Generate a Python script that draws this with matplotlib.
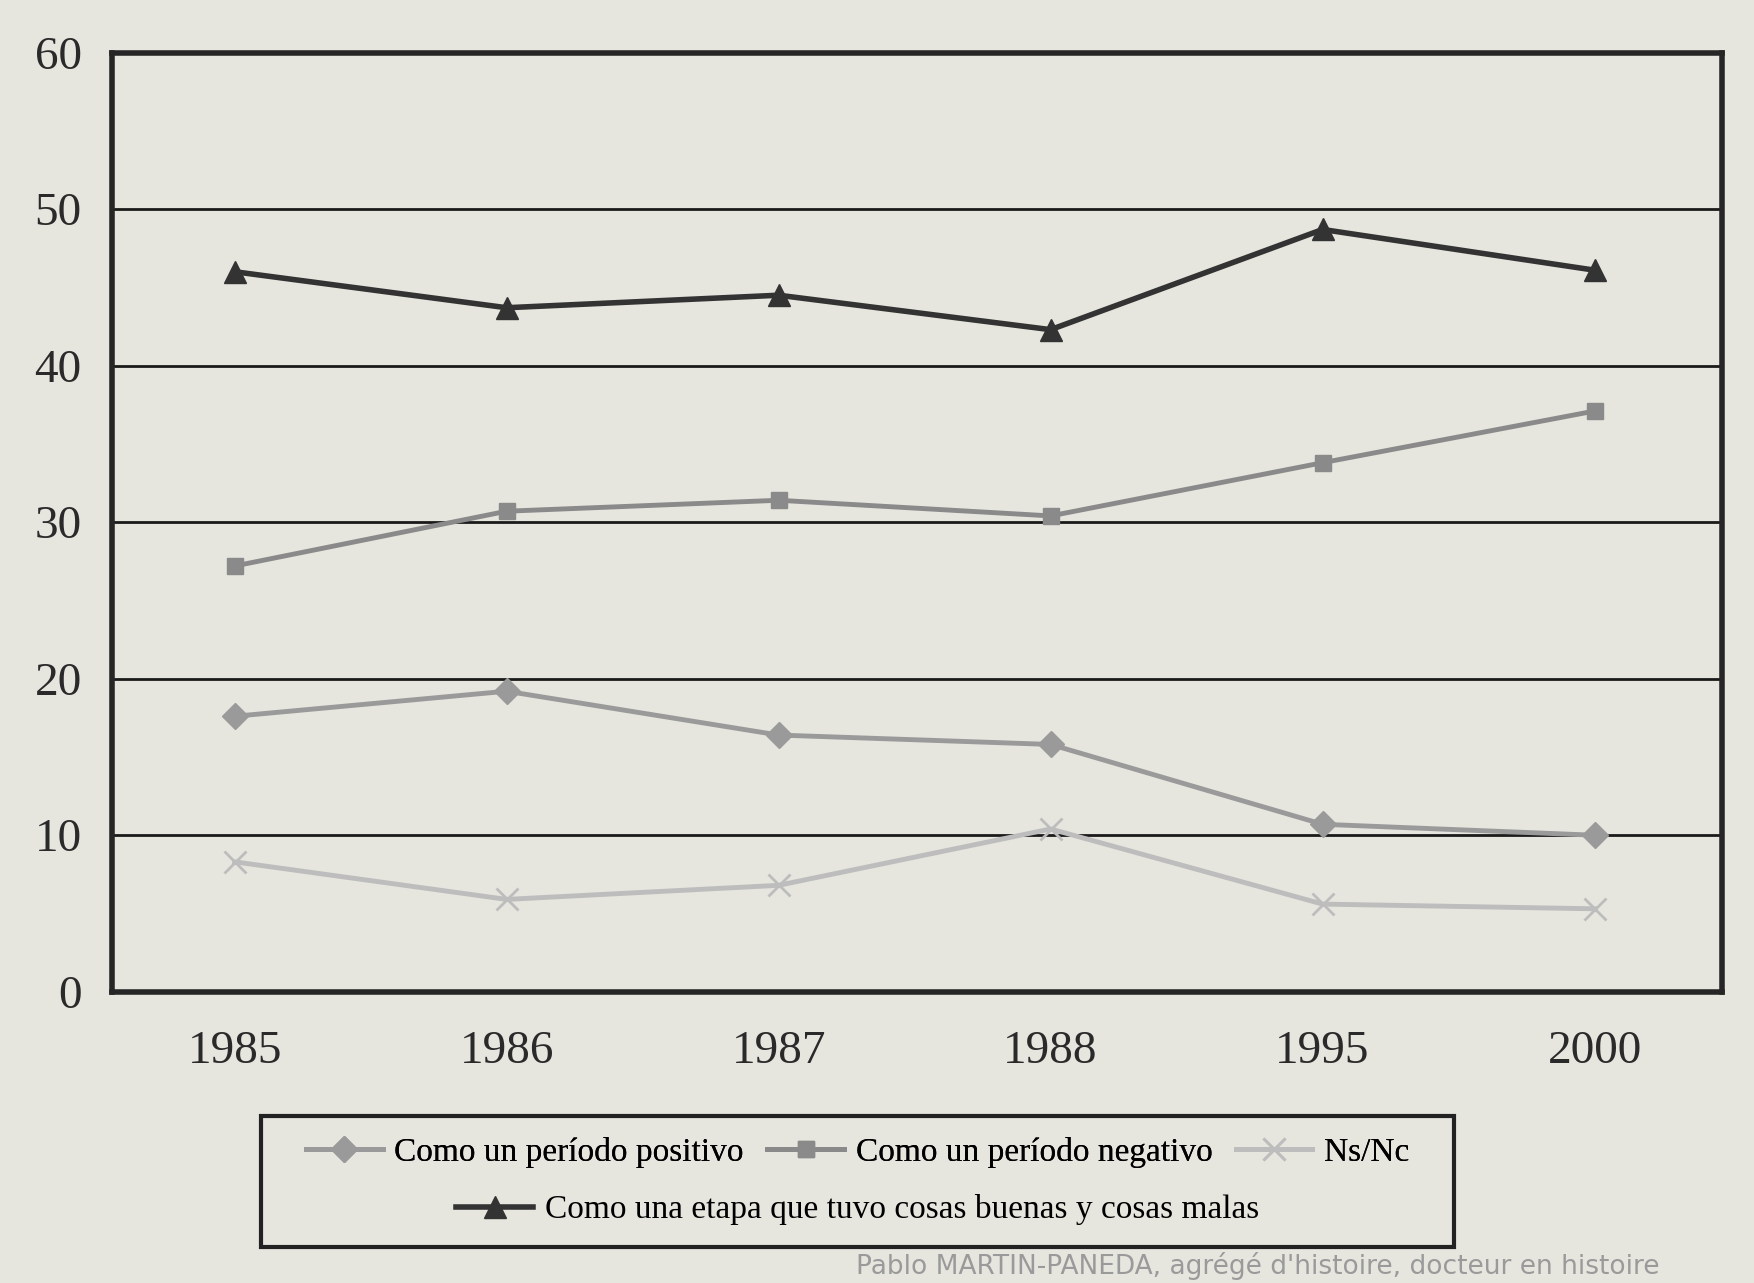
import numpy as np
import matplotlib.pyplot as plt
from matplotlib.patches import Rectangle

years = ["1985", "1986", "1987", "1988", "1995", "2000"]
positivo = [17.6, 19.2, 16.4, 15.8, 10.7, 10.0]
negativo = [27.2, 30.7, 31.4, 30.4, 33.8, 37.1]
nsnc = [8.3, 5.9, 6.8, 10.4, 5.6, 5.3]
etapa = [46.0, 43.7, 44.5, 42.3, 48.7, 46.1]

bg = "#e6e5de"
plt.rcParams['font.family'] = ['Liberation Serif', 'DejaVu Serif']

fig = plt.figure(figsize=(17.54, 12.83), dpi=100, facecolor=bg)
ax = fig.add_axes([0.064, 0.227, 0.918, 0.732], facecolor=bg)

x = np.arange(len(years))
l1, = ax.plot(x, positivo, color="#9a9a9a", lw=3.5, marker="D", ms=13,
              label="Como un período positivo")
l2, = ax.plot(x, negativo, color="#8a8a8a", lw=3.5, marker="s", ms=12,
              label="Como un período negativo")
l3, = ax.plot(x, nsnc, color="#bdbdbd", lw=3.5, marker="x", ms=16, mew=2,
              label="Ns/Nc")
l4, = ax.plot(x, etapa, color="#333333", lw=4, marker="^", ms=16,
              label="Como una etapa que tuvo cosas buenas y cosas malas")

ax.set_ylim(0, 60)
ax.set_xlim(-0.45, 5.47)
ax.set_yticks(range(0, 61, 10))
ax.yaxis.grid(True, color="#1a1a1a", lw=2)
ax.set_axisbelow(True)
ax.set_xticks(x)
ax.set_xticklabels(years)
ax.tick_params(length=0, labelsize=34, colors="#2a2a2a")
ax.tick_params(axis="x", pad=28)
ax.tick_params(axis="y", pad=22)
for s in ax.spines.values():
    s.set_linewidth(4)
    s.set_color("#262626")

# legend: three entries on the first row, the fourth centred below
kw = dict(fontsize=24, frameon=False, handlelength=2.3, columnspacing=0.7,
          handletextpad=0.35)
leg1 = fig.legend(handles=[l1, l2, l3], loc="center", ncol=3,
                  bbox_to_anchor=(0.489, 0.102), **kw)
leg2 = fig.legend(handles=[l4], loc="center", ncol=1,
                  bbox_to_anchor=(0.489, 0.057), **kw)
fig.add_artist(leg1)
fig.patches.append(Rectangle((0.149, 0.028), 0.680, 0.102, transform=fig.transFigure,
                             fill=False, lw=3, edgecolor="#222222"))

fig.text(0.488, 0.002, "Pablo MARTIN-PANEDA, agrégé d'histoire, docteur en histoire",
         fontsize=19, color="#9a9a9a", family="DejaVu Sans", va="bottom")

fig.savefig("out.png", dpi=100, facecolor=bg)
